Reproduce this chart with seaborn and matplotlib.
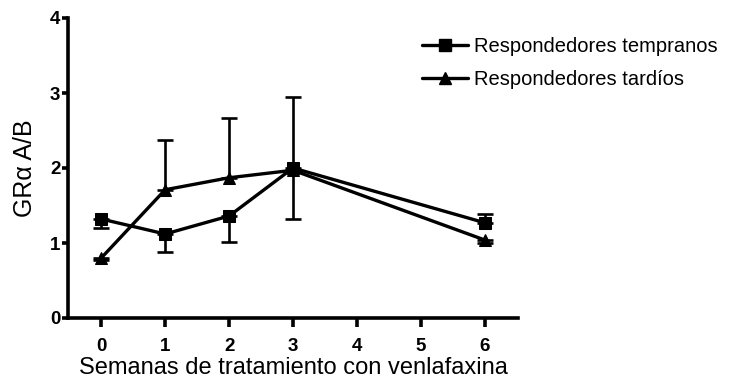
import matplotlib
matplotlib.use('Agg')
import matplotlib.pyplot as plt
from matplotlib.lines import Line2D
import seaborn as sns
import pandas as pd

semanas = [0, 1, 2, 3, 6]
tempranos = [1.32, 1.12, 1.36, 2.00, 1.27]
tempranos_err_lo = [0.12, 0.24, 0.34, 0.68, 0.0]
tempranos_err_hi = [0.0, 0.0, 0.0, 0.0, 0.12]
tardios = [0.80, 1.71, 1.87, 1.97, 1.04]
tardios_err_lo = [0.03, 0.0, 0.0, 0.0, 0.04]
tardios_err_hi = [0.0, 0.67, 0.80, 0.98, 0.0]
labels = ['Respondedores tempranos', 'Respondedores tardíos']

sns.set_style('ticks', {'axes.edgecolor': 'black', 'xtick.color': 'black',
                        'ytick.color': 'black', 'text.color': 'black',
                        'axes.labelcolor': 'black'})
plt.rcParams['font.family'] = ['Liberation Sans', 'DejaVu Sans']

df = pd.DataFrame({
    'semana': semanas * 2,
    'valor': tempranos + tardios,
    'grupo': [labels[0]] * 5 + [labels[1]] * 5,
})

fig = plt.figure(figsize=(7.3, 3.89), dpi=100)
ax = fig.add_axes([68 / 730, 1 - 318 / 389, 450 / 730, 300 / 389])

sns.lineplot(data=df, x='semana', y='valor', hue='grupo', style='grupo',
             markers={labels[0]: 's', labels[1]: '^'}, dashes=False,
             palette={labels[0]: 'black', labels[1]: 'black'},
             linewidth=2.4, markersize=9, markeredgecolor='black',
             legend=False, ax=ax, zorder=3)

ax.errorbar(semanas, tempranos, yerr=[tempranos_err_lo, tempranos_err_hi],
            fmt='none', ecolor='black', elinewidth=1.9, capsize=5.5, capthick=1.9)
ax.errorbar(semanas, tardios, yerr=[tardios_err_lo, tardios_err_hi],
            fmt='none', ecolor='black', elinewidth=1.9, capsize=5.5, capthick=1.9)

ax.set_xlim(-0.52, 6.52)
ax.set_ylim(0, 4)
ax.set_xticks([0, 1, 2, 3, 4, 5, 6])
ax.set_yticks([0, 1, 2, 3, 4])
for s in ['top', 'right']:
    ax.spines[s].set_visible(False)
for s in ['left', 'bottom']:
    ax.spines[s].set_linewidth(2.6)
ax.tick_params(axis='x', width=2.6, length=6.5, labelsize=13.5, pad=8)
ax.tick_params(axis='y', width=2.6, length=4.5, labelsize=13.5, pad=1)
for t in ax.get_xticklabels() + ax.get_yticklabels():
    t.set_fontweight('bold')

ax.set_xlabel('Semanas de tratamiento con venlafaxina', fontsize=17, labelpad=1)
ax.set_ylabel('GRα A/B', fontsize=18, labelpad=9)

handles = [Line2D([], [], color='black', lw=2.4, marker='s', markersize=9),
           Line2D([], [], color='black', lw=2.4, marker='^', markersize=9)]
ax.legend(handles, labels, loc='upper left', bbox_to_anchor=(404 / 730, 1 - 19 / 389),
          bbox_transform=fig.transFigure, frameon=False, fontsize=14.5,
          handlelength=2.3, handletextpad=0.3, labelspacing=0.7)

fig.savefig('out.png', dpi=100)
